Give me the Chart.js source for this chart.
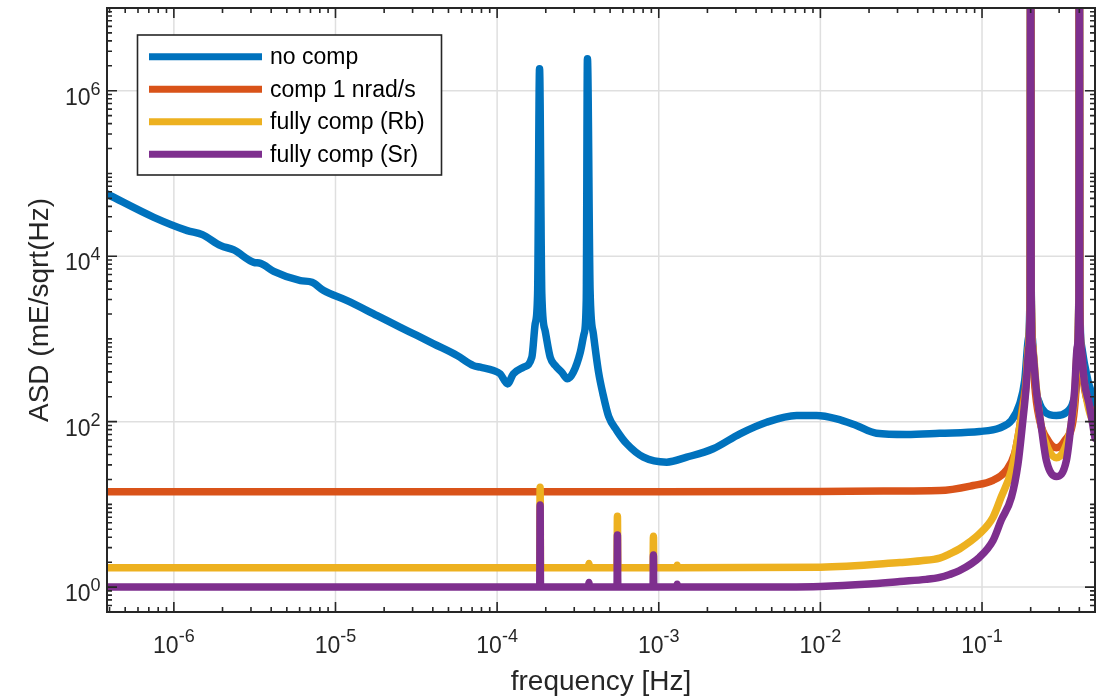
<!DOCTYPE html>
<html>
<head>
<meta charset="utf-8">
<title>ASD</title>
<script src="https://cdn.jsdelivr.net/npm/chart.js@4.4.1/dist/chart.umd.min.js"></script>
<style>
  html, body { margin: 0; padding: 0; background: #fff; }
  #wrap { width: 1102px; height: 697px; }
</style>
</head>
<body>
<div id="wrap"><canvas id="asd" width="1102" height="697"></canvas></div>
<script>
// amplitude spectral density of the gradient signal, four compensation cases
const seriesNames = ['no comp', 'comp 1 nrad/s', 'fully comp (Rb)', 'fully comp (Sr)'];
const seriesColors = ['#0072BD', '#D95319', '#EDB120', '#7E2F8E'];

const freqNoComp = [3.86e-7, 7.52e-7, 1.21e-6, 1.50e-6, 1.95e-6, 2.35e-6, 3.12e-6, 3.44e-6, 4.15e-6, 6.07e-6,
  7.16e-6, 8.45e-6, 1.18e-5, 1.81e-5, 2.52e-5, 3.19e-5, 4.05e-5, 5.65e-5, 7.14e-5, 7.87e-5,
  9.5e-5, 1.045e-4, 1.16e-4, 1.26e-4, 1.455e-4, 1.64e-4, 1.72e-4, 1.78e-4, 1.83e-4, 1.89e-4,
  1.98e-4, 2.13e-4, 2.29e-4, 2.51e-4, 2.72e-4, 2.96e-4, 3.27e-4, 3.45e-4, 3.56e-4, 3.62e-4,
  3.76e-4, 3.94e-4, 4.24e-4, 4.52e-4, 4.9e-4, 5.5e-4, 6.34e-4, 8.04e-4, 1.12e-3, 1.49e-3,
  2.17e-3, 3.18e-3, 4.65e-3, 7.13e-3, 9.48e-3, 1.26e-2, 1.67e-2, 2.22e-2, 3.41e-2, 5.47e-2,
  9.66e-2, 0.1285, 0.152, 0.171, 0.1837, 0.1935, 0.1985, 0.2, 0.2015, 0.205,
  0.2118, 0.2275, 0.2455, 0.2884, 0.3327, 0.3656, 0.3828, 0.392, 0.3975, 0.4,
  0.4025, 0.41, 0.4519, 0.4853, 0.5];
const asdNoComp = [5.65e4, 2.95e4, 2.04e4, 1.82e4, 1.34e4, 1.19e4, 8.43e3, 8.2e3, 6.56e3, 5.07e3,
  4.84e3, 3.84e3, 2.9e3, 1.91e3, 1.38e3, 1.10e3, 871, 630, 476, 455,
  415, 378, 286, 378, 455, 600, 1520, 3500, 1.84e6, 3500,
  1260, 600, 476, 395, 329, 395, 690, 1150, 2900, 2.43e6,
  3840, 1150, 398, 214, 115, 78, 54, 37.2, 32.4, 37.2,
  47, 71.3, 98.4, 118.6, 118.6, 108, 89.7, 72.4, 70, 72.4,
  76, 84, 103, 164, 314, 1000, 5000, 1e9, 5000, 1000,
  314, 164, 130, 118.6, 130, 172, 286, 900, 5000, 1e9,
  5000, 900, 314, 200, 158];

const freqComp1 = [3.86e-7, 1e-3, 1e-2, 0.0246, 0.0547, 0.088, 0.117, 0.141, 0.159, 0.171,
  0.179, 0.1866, 0.194, 0.1985, 0.2, 0.2015, 0.206, 0.2118, 0.2275, 0.2567,
  0.2884, 0.3246, 0.3656, 0.38, 0.39, 0.3975, 0.4, 0.4025, 0.41, 0.425,
  0.4728, 0.5];
const asdComp1 = [14.2, 14.2, 14.3, 14.5, 14.7, 16.9, 19.5, 25.7, 40.8, 85.7,
  164, 282, 800, 4000, 1e9, 4000, 800, 282, 103, 59,
  48.3, 59, 103, 220, 600, 4000, 1e9, 4000, 700, 300,
  136, 108];

const freqRb = [3.86e-7, 1.835e-4, 1.845e-4, 1.855e-4, 3.67e-4, 3.7e-4, 3.73e-4, 5.52e-4, 5.55e-4, 5.58e-4,
  9.22e-4, 9.27e-4, 9.32e-4, 1.295e-3, 1.3e-3, 1.305e-3, 1e-2, 0.031, 0.042, 0.0547,
  0.063, 0.0728, 0.0966, 0.117, 0.1313, 0.152, 0.167, 0.178, 0.1866, 0.194,
  0.1985, 0.2, 0.2015, 0.206, 0.2168, 0.2328, 0.2567, 0.2884, 0.3246, 0.354,
  0.374, 0.388, 0.3975, 0.4, 0.4025, 0.41, 0.43, 0.4853, 0.5];
const asdRb = [1.71, 1.71, 16.1, 1.71, 1.71, 1.93, 1.71, 1.71, 7.2, 1.71,
  1.71, 4.13, 1.71, 1.71, 1.84, 1.71, 1.74, 1.98, 2.08, 2.24,
  2.52, 2.91, 4.42, 7.0, 12.2, 25.7, 64.9, 136, 250, 800,
  4000, 1e9, 4000, 800, 250, 86, 47, 36.6, 47, 86,
  200, 700, 4000, 1e9, 4000, 700, 280, 103, 100];

const freqSr = [3.86e-7, 1.835e-4, 1.845e-4, 1.855e-4, 3.67e-4, 3.7e-4, 3.73e-4, 5.52e-4, 5.55e-4, 5.58e-4,
  9.22e-4, 9.27e-4, 9.32e-4, 1.295e-3, 1.3e-3, 1.305e-3, 3.16e-3, 1e-2, 0.02, 0.031,
  0.045, 0.0547, 0.063, 0.0728, 0.0966, 0.117, 0.1313, 0.152, 0.167, 0.178,
  0.1866, 0.195, 0.1985, 0.2, 0.2015, 0.205, 0.2168, 0.2328, 0.25, 0.2884,
  0.3327, 0.354, 0.374, 0.388, 0.3975, 0.4, 0.4025, 0.41, 0.43, 0.46, 0.5];
const asdSr = [1.0, 1.0, 9.8, 1.0, 1.0, 1.14, 1.0, 1.0, 4.25, 1.0,
  1.0, 2.44, 1.0, 1.0, 1.08, 1.0, 1.0, 1.02, 1.09, 1.17,
  1.24, 1.31, 1.42, 1.59, 2.30, 3.66, 6.4, 12.2, 31, 94,
  238, 794, 3160, 1e9, 3160, 794, 238, 86, 34, 21.7,
  34, 86, 238, 794, 3160, 1e9, 3160, 794, 300, 164, 63];

const xTickValues = [1e-6, 1e-5, 1e-4, 1e-3, 1e-2, 1e-1];
const yTickValues = [1e0, 1e2, 1e4, 1e6];
const xRange = [3.858e-7, 0.5];
const yRange = [0.5, 1e7];

const FONT = "'Liberation Sans', Arial, Helvetica, sans-serif";
const AXIS_COLOR = '#262626';
const GRID_COLOR = '#dfdfdf';

function toPoints(freq, asd) {
  return freq.map((f, i) => ({ x: f, y: asd[i] }));
}

const seriesData = [
  toPoints(freqNoComp, asdNoComp),
  toPoints(freqComp1, asdComp1),
  toPoints(freqRb, asdRb),
  toPoints(freqSr, asdSr)
];

// later series sit on top: lower order is drawn last
const datasets = seriesData.map((pts, i) => ({
  label: seriesNames[i],
  data: pts,
  borderColor: seriesColors[i],
  backgroundColor: seriesColors[i],
  borderWidth: 7.5,
  borderJoinStyle: 'round',
  borderCapStyle: 'round',
  cubicInterpolationMode: 'monotone',
  pointRadius: 0,
  fill: false,
  clip: 0,
  order: seriesNames.length - 1 - i
}));

function exponentOf(v) {
  return String(Math.round(Math.log10(v)));
}

// grid only at the labelled decades, drawn under the curves
const gridPlugin = {
  id: 'decadeGrid',
  beforeDatasetsDraw(chart) {
    const { ctx, chartArea: a } = chart;
    const xs = chart.scales.x, ys = chart.scales.y;
    ctx.save();
    ctx.strokeStyle = GRID_COLOR;
    ctx.lineWidth = 1.5;
    ctx.beginPath();
    xTickValues.forEach(v => {
      const px = xs.getPixelForValue(v);
      ctx.moveTo(px, a.top); ctx.lineTo(px, a.bottom);
    });
    yTickValues.forEach(v => {
      const py = ys.getPixelForValue(v);
      ctx.moveTo(a.left, py); ctx.lineTo(a.right, py);
    });
    ctx.stroke();
    ctx.restore();
  }
};

// box, inward ticks on all four sides, tick labels, titles, legend
const framePlugin = {
  id: 'frame',
  afterDatasetsDraw(chart) {
    const { ctx, chartArea: a } = chart;
    const xs = chart.scales.x, ys = chart.scales.y;
    ctx.save();
    ctx.strokeStyle = AXIS_COLOR;
    ctx.lineWidth = 1.6;
    ctx.beginPath();
    for (let n = -7; n <= 0; n++) {
      for (let k = 1; k <= 9; k++) {
        const v = k * Math.pow(10, n);
        if (v < xRange[0] || v > xRange[1]) continue;
        const len = k === 1 ? 10 : 5;
        const px = xs.getPixelForValue(v);
        ctx.moveTo(px, a.bottom); ctx.lineTo(px, a.bottom - len);
        ctx.moveTo(px, a.top); ctx.lineTo(px, a.top + len);
      }
    }
    for (let n = -1; n <= 7; n++) {
      for (let k = 1; k <= 9; k++) {
        const v = k * Math.pow(10, n);
        if (v < yRange[0] || v > yRange[1]) continue;
        const len = (k === 1 && n % 2 === 0) ? 10 : 5;
        const py = ys.getPixelForValue(v);
        ctx.moveTo(a.left, py); ctx.lineTo(a.left + len, py);
        ctx.moveTo(a.right, py); ctx.lineTo(a.right - len, py);
      }
    }
    ctx.stroke();
    ctx.lineWidth = 2;
    ctx.strokeRect(a.left, a.top, a.right - a.left, a.bottom - a.top);
    ctx.restore();
  },
  afterDraw(chart) {
    const { ctx, chartArea: a } = chart;
    const xs = chart.scales.x, ys = chart.scales.y;
    ctx.save();
    ctx.fillStyle = AXIS_COLOR;
    ctx.textBaseline = 'alphabetic';
    ctx.textAlign = 'left';
    const baseFont = '23px ' + FONT;
    const supFont = '18px ' + FONT;

    xTickValues.forEach(v => {
      const e = exponentOf(v);
      ctx.font = baseFont; const w1 = ctx.measureText('10').width;
      ctx.font = supFont; const w2 = ctx.measureText(e).width;
      const x0 = xs.getPixelForValue(v) - (w1 + w2) / 2;
      ctx.font = baseFont; ctx.fillText('10', x0, a.bottom + 40.5);
      ctx.font = supFont; ctx.fillText(e, x0 + w1, a.bottom + 29.5);
    });

    yTickValues.forEach(v => {
      const e = exponentOf(v);
      ctx.font = baseFont; const w1 = ctx.measureText('10').width;
      ctx.font = supFont; const w2 = ctx.measureText(e).width;
      const py = ys.getPixelForValue(v);
      const x0 = a.left - 6.5 - (w1 + w2);
      ctx.font = baseFont; ctx.fillText('10', x0, py + 14);
      ctx.font = supFont; ctx.fillText(e, x0 + w1, py + 4);
    });

    // axis titles
    ctx.font = '28px ' + FONT;
    ctx.textAlign = 'center';
    ctx.fillText('frequency [Hz]', (a.left + a.right) / 2, 690);
    ctx.translate(48, (a.top + a.bottom) / 2);
    ctx.rotate(-Math.PI / 2);
    ctx.fillText('ASD (mE/sqrt(Hz)', 0, 0);
    ctx.restore();

    // legend box in the upper left corner
    ctx.save();
    const lx = 137.5, ly = 35, lw = 304, lh = 140;
    ctx.fillStyle = '#ffffff';
    ctx.fillRect(lx, ly, lw, lh);
    ctx.strokeStyle = AXIS_COLOR;
    ctx.lineWidth = 1.6;
    ctx.strokeRect(lx, ly, lw, lh);
    ctx.font = '23px ' + FONT;
    ctx.textBaseline = 'middle';
    ctx.textAlign = 'left';
    seriesNames.forEach((name, i) => {
      const y = 56.7 + i * 32.5;
      ctx.strokeStyle = seriesColors[i];
      ctx.lineWidth = 7;
      ctx.lineCap = 'butt';
      ctx.beginPath();
      ctx.moveTo(149, y); ctx.lineTo(262, y);
      ctx.stroke();
      ctx.fillStyle = '#000000';
      ctx.fillText(name, 270, y + 1);
    });
    ctx.restore();
  }
};

new Chart(document.getElementById('asd'), {
  type: 'line',
  data: { datasets: datasets },
  options: {
    responsive: false,
    animation: false,
    devicePixelRatio: 1,
    layout: { padding: { left: 107, right: 7, top: 8, bottom: 85 } },
    plugins: { legend: { display: false }, tooltip: { enabled: false } },
    scales: {
      x: {
        type: 'logarithmic',
        min: xRange[0],
        max: xRange[1],
        ticks: { display: false },
        grid: { display: false, drawTicks: false },
        border: { display: false }
      },
      y: {
        type: 'logarithmic',
        min: yRange[0],
        max: yRange[1],
        ticks: { display: false },
        grid: { display: false, drawTicks: false },
        border: { display: false }
      }
    }
  },
  plugins: [gridPlugin, framePlugin]
});
</script>
</body>
</html>
